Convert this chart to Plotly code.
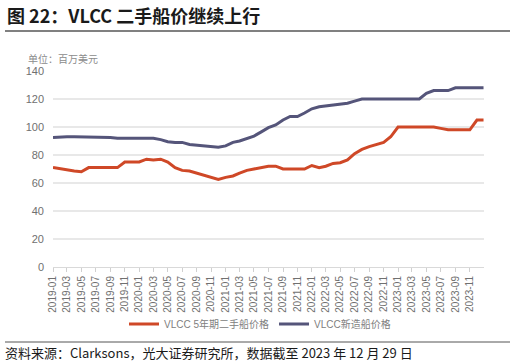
import pandas as pd
import plotly.graph_objects as go

# Monthly observation dates (month starts 2019-01 .. 2023-12) plus the final data date
dates = [d.strftime("%Y-%m-%d") for d in pd.date_range("2019-01-01", periods=60, freq="MS")] + ["2023-12-29"]

# VLCC 5-year-old second-hand price (US$ million)
secondhand = [71, 70, 69.5, 68.5, 68, 71, 71, 71, 71, 71,
              75, 75, 75, 77, 76.5, 77, 75, 71, 69, 68.5,
              67, 65, 64, 62.5, 64, 65, 67, 69, 70, 71,
              72, 72, 70, 70, 70, 70, 72.5, 71, 72, 74,
              74.5, 76.5, 81, 84, 86, 87.5, 89, 93, 100, 100,
              100, 100, 100, 100, 99, 98, 98, 98, 98, 105, 105]

# VLCC newbuilding price (US$ million)
newbuild = [92.5, 93, 93, 93, 93, 93, 92.5, 92.5, 92.5, 92,
            92, 92, 92, 92, 92, 91, 89.5, 89, 89, 87.5,
            87, 86, 85.5, 85.5, 86.5, 89, 90, 91.5, 93.5, 96.5,
            99.5, 101.5, 105, 107.5, 107.5, 110, 113, 114.5, 115, 115.5,
            116, 117, 118.5, 120, 120, 120, 120, 120, 120, 120,
            120, 120, 124, 126, 126, 126, 128, 128, 128, 128, 128]

y_ticks = [0, 20, 40, 60, 80, 100, 120, 140]

series_names = ["VLCC 5年期二手船价格", "VLCC新造船价格"]
title_text = "图 22：VLCC 二手船价继续上行"
unit_text = "单位：百万美元"
source_text = "资料来源：Clarksons，光大证券研究所，数据截至 2023 年 12 月 29 日"

RED = "#CF4827"
NAVY = "#55557A"
CJK = "Noto Sans CJK SC"
LAT = "Liberation Sans, Arial, Noto Sans CJK SC, sans-serif"

fig = go.Figure()
fig.add_trace(go.Scatter(x=dates, y=secondhand, mode="lines", name=series_names[0],
                         line=dict(color=RED, width=3)))
fig.add_trace(go.Scatter(x=dates, y=newbuild, mode="lines", name=series_names[1],
                         line=dict(color=NAVY, width=3)))

W, H = 516, 363
L, R, T, B = 53, 32, 71, 96
pw = W - L - R
ph = H - T - B

def px_to_paper_x(px):
    return (px - L) / pw

def px_to_paper_y(py):
    return (H - B - py) / ph

fig.update_layout(
    width=W, height=H,
    margin=dict(l=L, r=R, t=T, b=B, autoexpand=False),
    paper_bgcolor="white", plot_bgcolor="white",
    showlegend=True,
    legend=dict(orientation="h", x=px_to_paper_x(124), y=px_to_paper_y(324),
                xanchor="left", yanchor="middle",
                font=dict(family=LAT, size=10, color="#808080"),
                itemwidth=30, bgcolor="rgba(0,0,0,0)"),
    xaxis=dict(type="date", range=["2019-01-01", "2023-12-31"],
               tick0="2019-01-01", dtick="M2", tickformat="%Y-%m",
               tickangle=-90, ticks="outside", ticklen=4, tickcolor="#d0d0d0",
               showline=True, linecolor="#d9d9d9", linewidth=1,
               showgrid=False, tickfont=dict(family=LAT, size=10, color="#707070")),
    yaxis=dict(range=[0, 140], tickvals=y_ticks, showgrid=True,
               gridcolor="#E8E8E8", gridwidth=1.5, zeroline=False,
               showline=False, ticks="", ticklabelstandoff=8,
               tickfont=dict(family=LAT, size=11, color="#707070")),
    annotations=[
        dict(text="<b>" + title_text + "</b>", xref="paper", yref="paper",
             x=px_to_paper_x(5), y=px_to_paper_y(15), xanchor="left", yanchor="middle",
             showarrow=False, font=dict(family=CJK, size=18, color="#1a1a1a")),
        dict(text=unit_text, xref="paper", yref="paper",
             x=px_to_paper_x(26), y=px_to_paper_y(59), xanchor="left", yanchor="middle",
             showarrow=False, font=dict(family=CJK, size=10, color="#8c8c8c")),
        dict(text=source_text, xref="paper", yref="paper",
             x=px_to_paper_x(3), y=px_to_paper_y(352), xanchor="left", yanchor="middle",
             showarrow=False, font=dict(family=CJK, size=13, color="#1a1a1a")),
    ],
    shapes=[
        dict(type="line", xref="paper", yref="paper",
             x0=px_to_paper_x(5), x1=px_to_paper_x(510),
             y0=px_to_paper_y(31), y1=px_to_paper_y(31),
             line=dict(color="#808080", width=2)),
        dict(type="line", xref="paper", yref="paper",
             x0=px_to_paper_x(5), x1=px_to_paper_x(510),
             y0=px_to_paper_y(342), y1=px_to_paper_y(342),
             line=dict(color="#555555", width=1)),
    ],
)

fig.write_html("out.html",
               config={"displayModeBar": False},
               post_script="document.body.style.margin='0';document.body.style.overflow='hidden';")
